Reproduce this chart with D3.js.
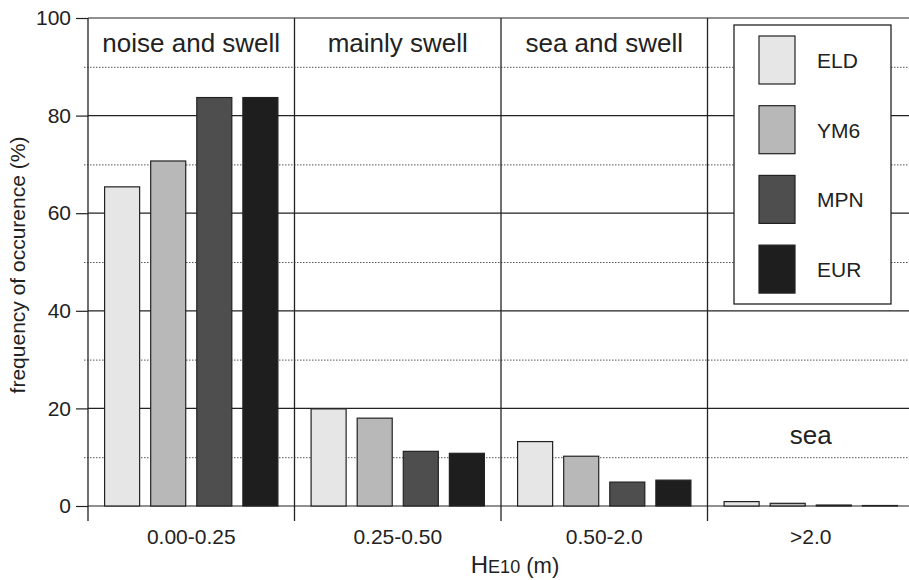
<!DOCTYPE html>
<html>
<head>
<meta charset="utf-8">
<script src="https://cdn.jsdelivr.net/npm/d3@7"></script>
<style>
  html, body { margin: 0; padding: 0; background: #fff; }
  svg { display: block; font-family: "Liberation Sans", Arial, Helvetica, sans-serif; }
</style>
</head>
<body>
<svg id="chart" width="909" height="580"></svg>
<script>
// Wave-height classes and the occurrence (%) for each forecast model
const categories = ["0.00-0.25", "0.25-0.50", "0.50-2.0", ">2.0"];
const series = ["ELD", "YM6", "MPN", "EUR"];
const ELD = [65.4, 19.9, 13.2, 0.9];
const YM6 = [70.7, 18.0, 10.2, 0.55];
const MPN = [83.7, 11.2, 4.9, 0.2];
const EUR = [83.7, 10.8, 5.3, 0.1];
const yTicks = [0, 20, 40, 60, 80, 100];
const yMinorTicks = [10, 30, 50, 70, 90];
const regimeLabels = [
  { cat: "0.00-0.25", text: "noise and swell", value: 93 },
  { cat: "0.25-0.50", text: "mainly swell", value: 93 },
  { cat: "0.50-2.0", text: "sea and swell", value: 93 },
  { cat: ">2.0", text: "sea", value: 12.7 }
];

const valuesBySeries = { ELD, YM6, MPN, EUR };
const fills = { ELD: "#e6e6e6", YM6: "#b8b8b8", MPN: "#4e4e4e", EUR: "#1e1e1e" };
const ink = "#222";

const svg = d3.select("#chart");
const plotLeft = 88, plotRight = 914, plotTop = 18, plotBottom = 506;

const x = d3.scaleBand().domain(categories).range([plotLeft, plotRight]).paddingInner(0).paddingOuter(0);
const xs = d3.scaleBand().domain(series).range([0, x.bandwidth()]).paddingInner(0.24).paddingOuter(0.36);
const y = d3.scaleLinear().domain([0, 100]).range([plotBottom, plotTop]);

// dotted minor gridlines
svg.append("g").selectAll("line").data(yMinorTicks).join("line")
  .attr("x1", plotLeft - 4).attr("x2", 909)
  .attr("y1", d => y(d) + 0.5).attr("y2", d => y(d) + 0.5)
  .attr("stroke", "#555").attr("stroke-width", 1).attr("stroke-dasharray", "1.5,1.5");

// solid major gridlines with the left axis
const yAxis = d3.axisLeft(y).tickValues(yTicks).tickSize(12).tickPadding(5);
const gy = svg.append("g").attr("transform", `translate(${plotLeft},0)`).call(yAxis);
gy.select(".domain").remove();
gy.selectAll(".tick line").attr("stroke", ink).attr("stroke-width", 1.2);
gy.selectAll(".tick text").attr("font-size", 21).attr("fill", ink)
  .attr("font-family", "Liberation Sans, Arial, sans-serif");
svg.append("g").selectAll("line").data(yTicks).join("line")
  .attr("x1", plotLeft).attr("x2", 909)
  .attr("y1", d => y(d)).attr("y2", d => y(d))
  .attr("stroke", ink).attr("stroke-width", 1.2);

// category dividers, running past the baseline as ticks
const dividers = categories.map(c => x(c));
svg.append("g").selectAll("line").data(dividers).join("line")
  .attr("x1", d => d).attr("x2", d => d)
  .attr("y1", y(100)).attr("y2", plotBottom + 15)
  .attr("stroke", ink).attr("stroke-width", 1.3);

// bars
const groups = svg.append("g").selectAll("g").data(categories).join("g")
  .attr("transform", c => `translate(${x(c)},0)`);
groups.selectAll("rect")
  .data((c, i) => series.map(s => ({ s, v: valuesBySeries[s][i] })))
  .join("rect")
  .attr("x", d => xs(d.s))
  .attr("width", xs.bandwidth())
  .attr("y", d => y(d.v))
  .attr("height", d => y(0) - y(d.v))
  .attr("fill", d => fills[d.s])
  .attr("stroke", ink).attr("stroke-width", 1.2);

// regime labels inside the plot
svg.append("g").selectAll("text").data(regimeLabels).join("text")
  .attr("x", d => x(d.cat) + x.bandwidth() / 2)
  .attr("y", d => y(d.value))
  .attr("text-anchor", "middle")
  .attr("font-size", 26).attr("fill", ink)
  .text(d => d.text);

// category labels
svg.append("g").selectAll("text").data(categories).join("text")
  .attr("x", c => x(c) + x.bandwidth() / 2)
  .attr("y", 544)
  .attr("text-anchor", "middle")
  .attr("font-size", 21).attr("fill", ink)
  .text(c => c);

// axis titles
const xt = svg.append("text").attr("x", 515).attr("y", 573)
  .attr("text-anchor", "middle").attr("fill", ink);
xt.append("tspan").attr("font-size", 24).text("H");
xt.append("tspan").attr("font-size", 18).text("E10");
xt.append("tspan").attr("font-size", 22).text(" (m)");

svg.append("text")
  .attr("transform", `translate(25,265) rotate(-90)`)
  .attr("text-anchor", "middle").attr("font-size", 21).attr("fill", ink)
  .text("frequency of occurence (%)");

// legend
const lg = svg.append("g");
lg.append("rect").attr("x", 734).attr("y", 25).attr("width", 157).attr("height", 279)
  .attr("fill", "#fff").attr("stroke", ink).attr("stroke-width", 1.3);
const items = lg.selectAll("g.item").data(series).join("g").attr("class", "item")
  .attr("transform", (s, i) => `translate(759,${36 + i * 69.7})`);
items.append("rect").attr("width", 36).attr("height", 48)
  .attr("fill", s => fills[s]).attr("stroke", ink).attr("stroke-width", 1.2);
items.append("text").attr("x", 58).attr("y", 32).attr("font-size", 21).attr("fill", ink)
  .text(s => s);
</script>
</body>
</html>
